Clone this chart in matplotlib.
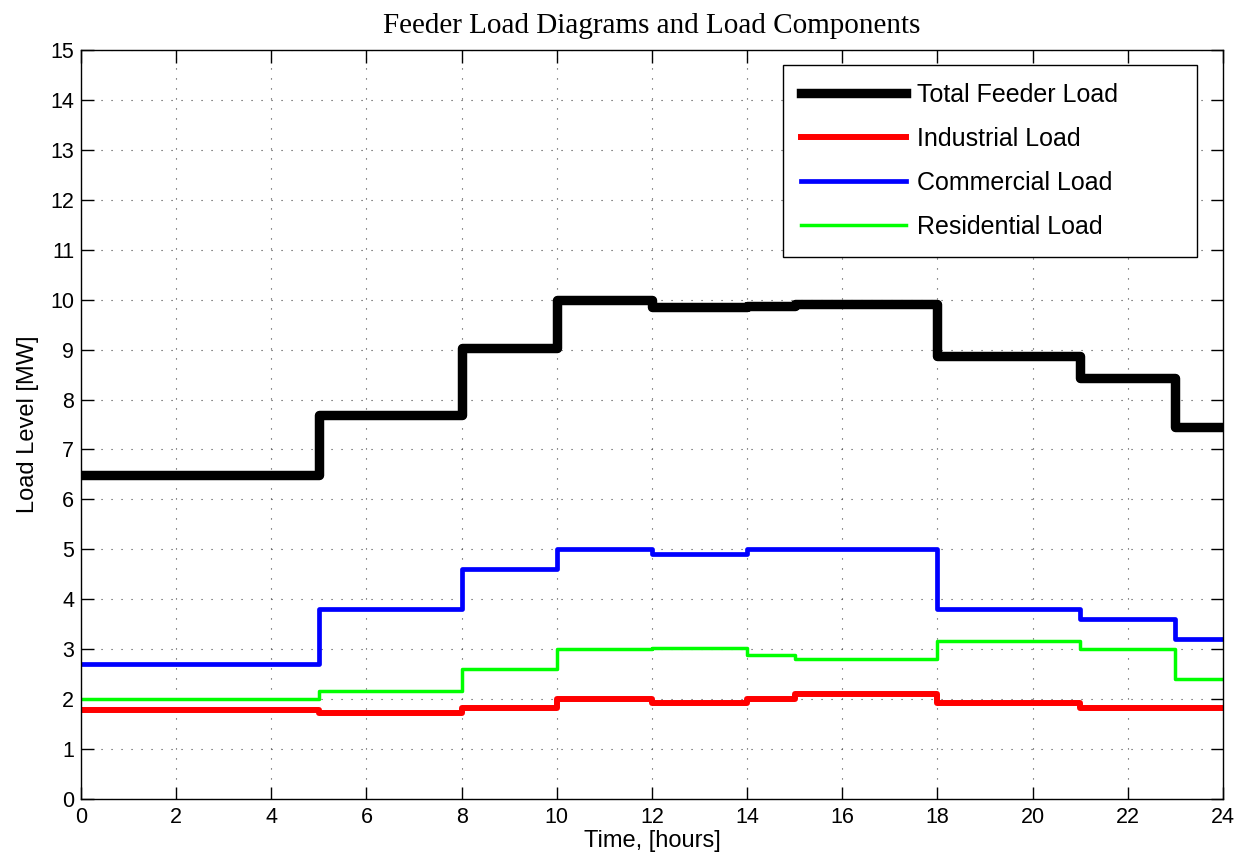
import matplotlib.pyplot as plt
import numpy as np

plt.rcParams["font.family"] = ["Liberation Sans", "DejaVu Sans"]

# interval start hours (last value closes the day at 24 h)
hours = [0, 5, 8, 10, 12, 14, 15, 18, 21, 23, 24]

total_load = [6.48, 7.70, 9.03, 10.00, 9.85, 9.88, 9.91, 8.87, 8.44, 7.44]
industrial_load = [1.78, 1.73, 1.82, 2.00, 1.92, 2.00, 2.10, 1.92, 1.82, 1.82]
commercial_load = [2.70, 3.80, 4.60, 5.00, 4.90, 5.00, 5.00, 3.80, 3.60, 3.20]
residential_load = [2.00, 2.17, 2.60, 3.00, 3.03, 2.88, 2.81, 3.16, 3.00, 2.41]


def steps(values):
    return list(values) + [values[-1]]


fig = plt.figure(figsize=(12.44, 8.65), dpi=100)
ax = fig.add_axes([0.0651, 0.0763, 0.918, 0.8659])

ax.step(hours, steps(total_load), where="post", color="black", lw=6.8, label="Total Feeder Load")
ax.step(hours, steps(industrial_load), where="post", color="#ff0000", lw=4.3, label="Industrial Load")
ax.step(hours, steps(commercial_load), where="post", color="#0000ff", lw=3.4, label="Commercial Load")
ax.step(hours, steps(residential_load), where="post", color="#00ff00", lw=2.5, label="Residential Load")

ax.set_xlim(0, 24)
ax.set_ylim(0, 15)
ax.set_xticks(np.arange(0, 25, 2))
ax.set_yticks(np.arange(0, 16, 1))
ax.tick_params(direction="in", top=True, right=True, labelsize=15.5, length=9, width=1)
ax.tick_params(axis="x", pad=6)
ax.tick_params(axis="y", pad=5)
ax.grid(True, linestyle=(0, (1, 8)), color="#444444", linewidth=0.8)
for sp in ax.spines.values():
    sp.set_linewidth(1.0)

ax.set_title("Feeder Load Diagrams and Load Components", family=["Liberation Serif"], fontsize=21, pad=12)
ax.set_xlabel("Time, [hours]", fontsize=17, labelpad=1)
ax.set_ylabel("Load Level [MW]", fontsize=17, labelpad=8)

# legend box stretched to a fixed width, entries stay left aligned
leg = ax.legend(loc="upper left", bbox_to_anchor=(0.6147, 0.0, 0.3625, 0.98), mode="expand",
                fontsize=18, fancybox=False, framealpha=1, edgecolor="black",
                handlelength=4.2, borderpad=0.72, labelspacing=0.8, handletextpad=0.45,
                borderaxespad=0)
leg.get_frame().set_linewidth(1.0)

fig.savefig("out.png", dpi=100)
